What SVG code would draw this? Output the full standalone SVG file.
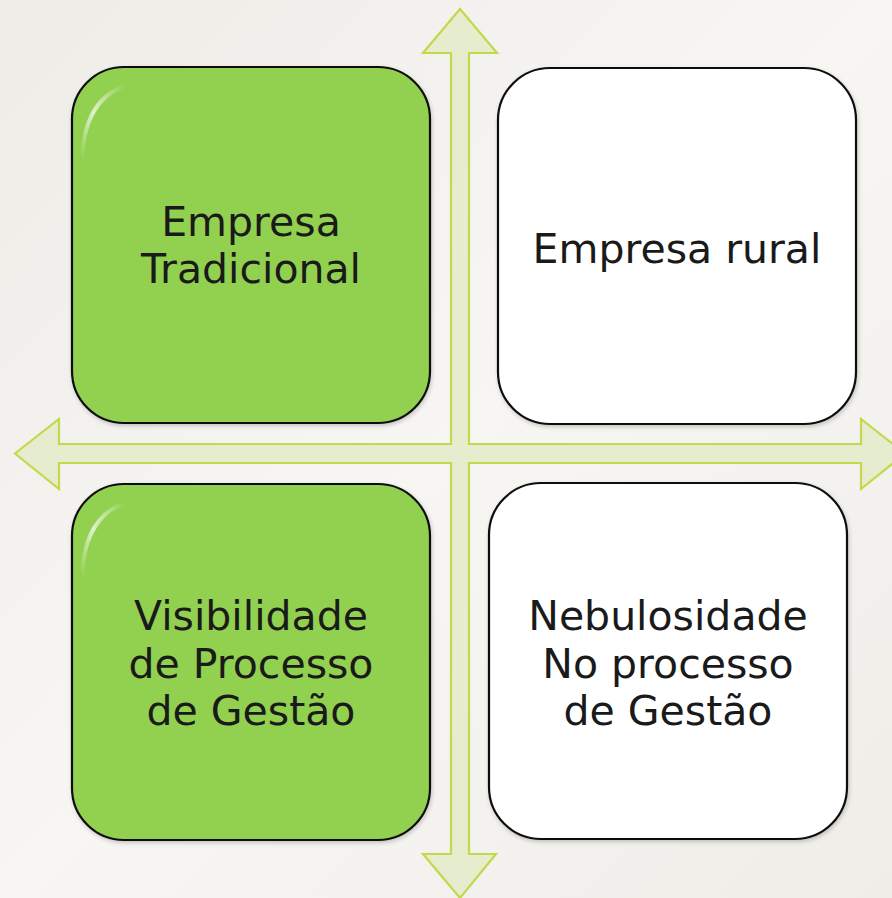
<svg xmlns="http://www.w3.org/2000/svg" width="892" height="898" viewBox="0 0 892 898">
<defs>
<linearGradient id="bg" x1="0" y1="0" x2="1" y2="1">
<stop offset="0" stop-color="#eeece7"/>
<stop offset="0.5" stop-color="#f7f6f3"/>
<stop offset="1" stop-color="#efede8"/>
</linearGradient>
<linearGradient id="gloss" x1="0" y1="1" x2="1" y2="0">
<stop offset="0" stop-color="#ffffff" stop-opacity="0"/>
<stop offset="0.45" stop-color="#ffffff" stop-opacity="0.7"/>
<stop offset="1" stop-color="#ffffff" stop-opacity="0"/>
</linearGradient>
<filter id="sh" x="-10%" y="-10%" width="120%" height="120%">
<feDropShadow dx="1" dy="2" stdDeviation="2" flood-color="#000" flood-opacity="0.2"/>
</filter>
</defs>
<style>
.box{stroke:#111;stroke-width:2.2;filter:url(#sh)}
.green{fill:#92d050}
.white{fill:#ffffff}
.t{font-family:"DejaVu Sans","Liberation Sans",sans-serif;font-size:41px;fill:#1a1a1a;text-anchor:middle}
.arrow{fill:#e6edcf;stroke:#c3d84a;stroke-width:2.2;stroke-linejoin:miter}
.gl{fill:none;stroke:url(#gloss);stroke-width:4;stroke-linecap:round}
</style>
<rect width="892" height="898" fill="url(#bg)"/>
<g id="connectors">
<path class="arrow" d="M460,9 L497,53 L469,53 L469,444 L861,444 L861,419 L905,453.5 L861,489 L861,463 L469,463 L469,854 L496,854 L460,898 L423,854 L451,854 L451,463 L59,463 L59,489 L15,453.5 L59,419 L59,444 L451,444 L451,53 L423,53 Z"/>
</g>
<g id="node-tl">
<rect class="box green" x="72" y="67" width="358" height="356" rx="52"/>
<path class="gl" d="M82,160 Q84,100 125,86"/>
<text class="t" x="251" y="236">Empresa</text>
<text class="t" x="251" y="283">Tradicional</text>
</g>
<g id="node-tr">
<rect class="box white" x="498" y="68" width="358" height="356" rx="52"/>
<text class="t" x="677" y="263">Empresa rural</text>
</g>
<g id="node-bl">
<rect class="box green" x="72" y="484" width="358" height="356" rx="52"/>
<path class="gl" d="M82,577 Q84,517 125,503"/>
<text class="t" x="251" y="630">Visibilidade</text>
<text class="t" x="251" y="678">de Processo</text>
<text class="t" x="251" y="725">de Gestão</text>
</g>
<g id="node-br">
<rect class="box white" x="489" y="483" width="358" height="356" rx="52"/>
<text class="t" x="668" y="630">Nebulosidade</text>
<text class="t" x="668" y="678">No processo</text>
<text class="t" x="668" y="725">de Gestão</text>
</g>
</svg>
